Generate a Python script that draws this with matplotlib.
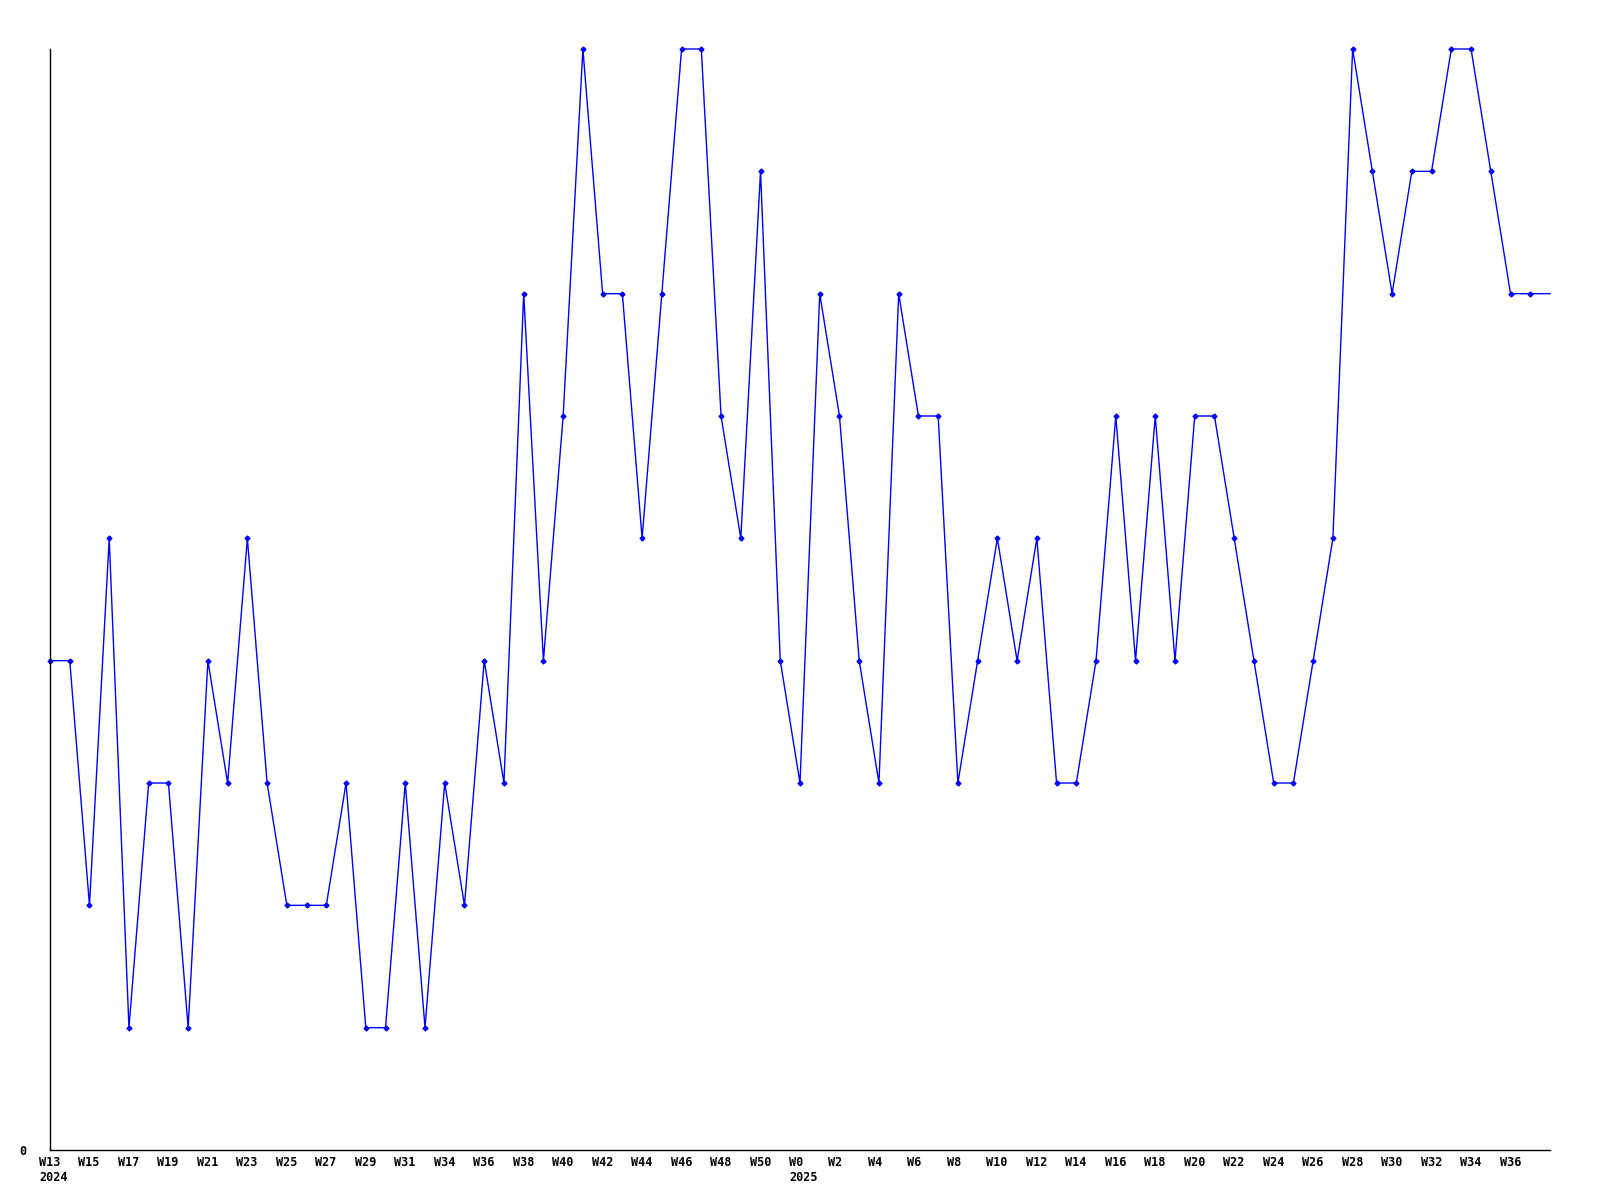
import matplotlib.pyplot as plt
import matplotlib.transforms as mtransforms
import numpy as np

# weekly counts, W13 2024 .. W37 2025
values = [4, 4, 2, 5, 1, 3, 3, 1, 4, 3, 5, 3, 2, 2, 2, 3, 1, 1, 3, 1,
          3, 2, 4, 3, 7, 4, 6, 9, 7, 7, 5, 7, 9, 9, 6, 5, 8, 4, 3, 7,
          6, 4, 3, 7, 6, 6, 3, 4, 5, 4, 5, 3, 3, 4, 6, 4, 6, 4, 6, 6,
          5, 4, 3, 3, 4, 5, 9, 8, 7, 8, 8, 9, 9, 8, 7, 7, 7]

tick_labels = ["W13\n2024", "W15", "W17", "W19", "W21", "W23", "W25", "W27",
               "W29", "W31", "W34", "W36", "W38", "W40", "W42", "W44", "W46",
               "W48", "W50", "W0\n2025", "W2", "W4", "W6", "W8", "W10", "W12",
               "W14", "W16", "W18", "W20", "W22", "W24", "W26", "W28", "W30",
               "W32", "W34", "W36"]

x = np.arange(len(values))

fig = plt.figure(figsize=(16, 12), dpi=100)
ax = fig.add_axes([50 / 1600, 50 / 1200, 1500 / 1600, 1101 / 1200])

ax.plot(x, values, color="#0000ff", lw=1.0, marker="D", ms=2.5,
        markevery=list(range(len(values) - 1)), clip_on=False)

ax.set_xlim(0, len(values) - 1)
ax.set_ylim(0, max(values))

for s in ["top", "right"]:
    ax.spines[s].set_visible(False)
for s in ["left", "bottom"]:
    ax.spines[s].set_linewidth(1.0)

ax.set_xticks(x[:-1:2])
ax.set_xticklabels(tick_labels, fontfamily="DejaVu Sans Mono",
                   fontweight="bold", fontsize=8.5)
ax.set_yticks([0])
ax.set_yticklabels(["0"], fontfamily="DejaVu Sans Mono",
                   fontweight="bold", fontsize=8.5)
ax.tick_params(axis="both", length=0)
ax.tick_params(axis="x", pad=4)
ax.tick_params(axis="y", pad=17)

offset = mtransforms.ScaledTranslation(-11 / 100, 0, fig.dpi_scale_trans)
for lab in ax.get_xticklabels():
    lab.set_horizontalalignment("left")
    lab.set_multialignment("left")
    lab.set_linespacing(1.25)
    lab.set_transform(lab.get_transform() + offset)

fig.savefig("out.png", dpi=100)
